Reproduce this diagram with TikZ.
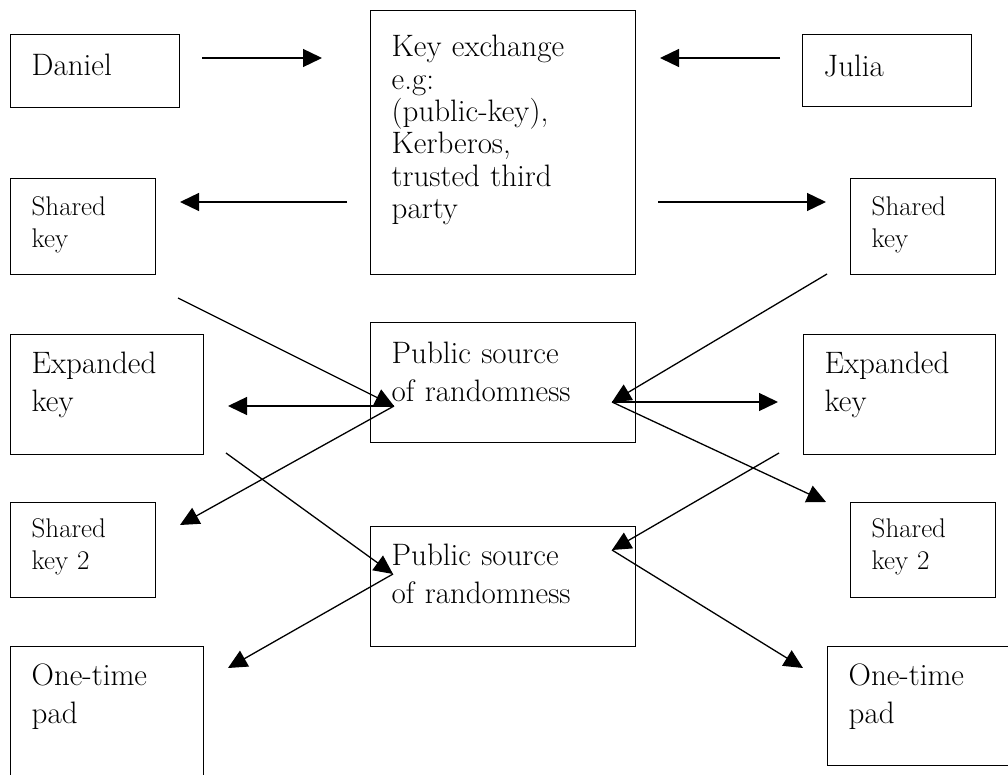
\documentclass[tikz,border=0pt]{standalone}
\usepackage{fontspec}
\usetikzlibrary{arrows.meta}

\begin{document}
\begin{tikzpicture}[
	x=1pt,
	y=-1pt,
	line width=1.3pt,
	box/.style={draw, line width=1.4pt, anchor=north west, align=left, inner xsep=21pt, inner ysep=0pt},
	big/.style={font=\fontsize{31pt}{38pt}\selectfont},
	small/.style={font=\fontsize{27pt}{31.5pt}\selectfont},
	arr/.style={-{Triangle[length=19pt,width=18pt]}}
]
	\path[use as bounding box, fill=white] (0,0) rectangle (1008,775);
	\clip (0,0) rectangle (1008,775);

	\node[box, big, text width=127pt, text height=41pt, text depth=32pt] (daniel) at (10,34) {Daniel};
	\node[box, font=\fontsize{31pt}{32.4pt}\selectfont, text width=223pt, text height=46pt, text depth=218pt] (keyex) at (370,10)
		{Key exchange\\e.g:\\(public-key),\\Kerberos,\\trusted third\\party};
	\node[box, big, text width=127pt, text height=42pt, text depth=30pt] (julia) at (802,34) {Julia};

	\node[box, small, text width=103pt, text height=37pt, text depth=59pt] (sharedl) at (10,178) {Shared\\key};
	\node[box, small, text width=103pt, text height=37pt, text depth=59pt] (sharedr) at (850,178) {Shared\\key};

	\node[box, big, text width=151pt, text height=39pt, text depth=81pt] (expl) at (10,334) {Expanded\\key};
	\node[box, big, text width=223pt, text height=41pt, text depth=79pt] (pub1) at (370,322) {Public source\\of randomness};
	\node[box, big, text width=150pt, text height=39pt, text depth=81pt] (expr) at (803,334) {Expanded\\key};

	\node[box, small, text width=103pt, text height=35pt, text depth=60pt] (shared2l) at (10,502) {Shared\\key 2};
	\node[box, big, text width=223pt, text height=39pt, text depth=81pt] (pub2) at (370,526) {Public source\\of randomness};
	\node[box, small, text width=103pt, text height=35pt, text depth=60pt] (shared2r) at (850,502) {Shared\\key 2};

	\node[box, big, text width=151pt, text height=39pt, text depth=101pt] (padl) at (10,646) {One-time\\pad};
	\node[box, big, text width=160pt, text height=39pt, text depth=80pt] (padr) at (827,646) {One-time\\pad};

	\coordinate (daniel-out) at (202,58);
	\coordinate (keyex-inl) at (322,58);
	\coordinate (julia-out) at (780,58);
	\coordinate (keyex-inr) at (660,58);
	\coordinate (keyex-outl) at (347,202);
	\coordinate (sharedl-in) at (180,202);
	\coordinate (keyex-outr) at (658,202);
	\coordinate (sharedr-in) at (826,202);
	\coordinate (sharedl-out) at (178,298);
	\coordinate (sharedr-out) at (827,274);
	\coordinate (pub1-l) at (394,406);
	\coordinate (pub1-r) at (612,402);
	\coordinate (expl-in) at (228,406);
	\coordinate (expr-in) at (778,402);
	\coordinate (shared2l-in) at (180,525);
	\coordinate (shared2r-in) at (826,502);
	\coordinate (expl-out) at (226,453);
	\coordinate (expr-out) at (779,453);
	\coordinate (pub2-l) at (393,574);
	\coordinate (pub2-r) at (612,550);
	\coordinate (padl-in) at (228,668);
	\coordinate (padr-in) at (803,668);

	\draw[arr] (daniel-out) -- (keyex-inl);
	\draw[arr] (julia-out) -- (keyex-inr);
	\draw[arr] (keyex-outl) -- (sharedl-in);
	\draw[arr] (keyex-outr) -- (sharedr-in);
	\draw[arr] (sharedl-out) -- (pub1-l);
	\draw[arr] (sharedr-out) -- (pub1-r);
	\draw[arr] (pub1-l) -- (expl-in);
	\draw[arr] (pub1-r) -- (expr-in);
	\draw[arr] (pub1-l) -- (shared2l-in);
	\draw[arr] (pub1-r) -- (shared2r-in);
	\draw[arr] (expl-out) -- (pub2-l);
	\draw[arr] (expr-out) -- (pub2-r);
	\draw[arr] (pub2-l) -- (padl-in);
	\draw[arr] (pub2-r) -- (padr-in);
\end{tikzpicture}
\end{document}
